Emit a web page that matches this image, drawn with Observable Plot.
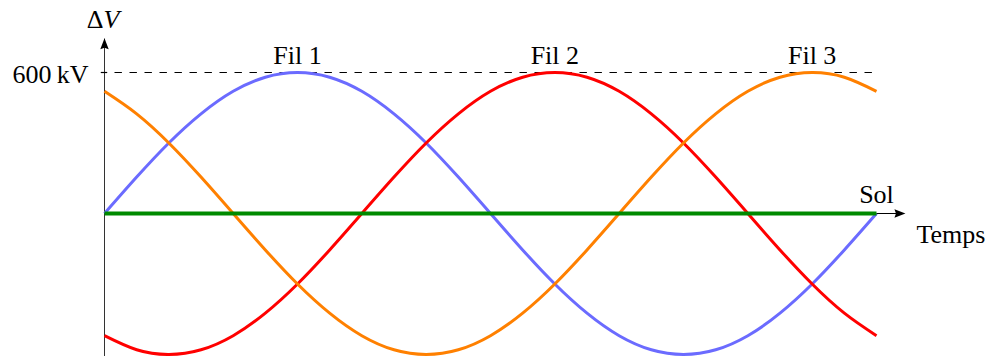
<!DOCTYPE html>
<html>
<head>
<meta charset="utf-8">
<script src="https://cdn.jsdelivr.net/npm/d3@7"></script>
<script src="https://cdn.jsdelivr.net/npm/@observablehq/plot@0.6"></script>
<style>
  html, body { margin: 0; padding: 0; background: #fff; }
  #chart svg { display: block; }
</style>
</head>
<body>
<div id="chart"></div>
<script>
// Phase of the 50 Hz cycle (degrees) — the "Temps" axis
const phase = [0, 15, 30, 45, 60, 75, 90, 105, 120, 135, 150, 165, 180,
               195, 210, 225, 240, 255, 270, 285, 300, 315, 330, 345, 360];
// Voltage of each wire relative to ground (kV)
const fil1 = [0, 155, 300, 424, 520, 580, 600, 580, 520, 424, 300, 155, 0,
              -155, -300, -424, -520, -580, -600, -580, -520, -424, -300, -155, 0];
const fil2 = [-520, -580, -600, -580, -520, -424, -300, -155, 0, 155, 300, 424, 520,
              580, 600, 580, 520, 424, 300, 155, 0, -155, -300, -424, -520];
const fil3 = [520, 424, 300, 155, 0, -155, -300, -424, -520, -580, -600, -580, -520,
              -424, -300, -155, 0, 155, 300, 424, 520, 580, 600, 580, 520];
// Ground ("Sol")
const solPhase = [0, 360];
const solValue = [0, 0];
// Peak amplitude and labels
const peakKV = 600;
const peakLabel = "600\u2009kV";
const wireNames = ["Fil 1", "Fil 2", "Fil 3"];
const wirePeaks = [90, 210, 330];
const wireColors = ["#6b6bff", "#ff0000", "#ff8000"];

const series = [fil1, fil2, fil3];
const rows = series.flatMap((vals, i) => phase.map((p, j) => ({t: p, v: vals[j], fil: wireNames[i]})));
const solRows = solPhase.map((t, i) => ({t, v: solValue[i]}));

// filled LaTeX-style arrowhead, tip at the anchor point, pointing up
const arrowHead = {
  draw(ctx) {
    ctx.moveTo(0, 0);
    ctx.lineTo(4.2, 11);
    ctx.lineTo(0, 9.5);
    ctx.lineTo(-4.2, 11);
    ctx.closePath();
  }
};

const font = "Liberation Serif, Times New Roman, serif";
const fs = 26;

const chart = Plot.plot({
  width: 989,
  height: 356,
  marginLeft: 104,
  marginRight: 113,
  marginTop: 72,
  marginBottom: 2,
  style: {fontFamily: font, background: "#fff", overflow: "visible"},
  x: {domain: [0, 360], axis: null},
  y: {domain: [-peakKV, peakKV], axis: null},
  color: {domain: wireNames, range: wireColors},
  marks: [
    // y axis line + arrow
    Plot.ruleX([0], {y1: -625, y2: 742, stroke: "#333", strokeWidth: 1}),
    Plot.dot([{t: 0, v: 746}], {x: "t", y: "v", symbol: arrowHead, fill: "#000", stroke: "none"}),
    // x axis line + arrow
    Plot.ruleY([0], {x1: 0, x2: 371, stroke: "#000", strokeWidth: 1}),
    Plot.dot([{t: 373.5, v: 0}], {x: "t", y: "v", symbol: arrowHead, fill: "#000", stroke: "none", rotate: 90}),
    // 600 kV tick and dashed reference
    Plot.ruleY([peakKV], {x1: -1.5, x2: 1.5, stroke: "#000", strokeWidth: 1.2}),
    Plot.ruleY([peakKV], {x1: 0, x2: 360, stroke: "#000", strokeWidth: 1.2, strokeDasharray: "7.4,7.6", strokeDashoffset: 4.5}),
    // wires
    Plot.line(rows, {x: "t", y: "v", z: "fil", stroke: "fil", strokeWidth: 3, curve: "natural", strokeLinecap: "butt"}),
    // ground
    Plot.line(solRows, {x: "t", y: "v", stroke: "#008a00", strokeWidth: 4, strokeLinecap: "butt"}),
    // labels
    Plot.text(wireNames.map((n, i) => ({t: wirePeaks[i], v: peakKV, n})),
      {x: "t", y: "v", text: "n", textAnchor: "middle", lineAnchor: "bottom", dy: -9, fontSize: fs, fill: "#000"}),
    Plot.text([{t: 360, v: 0}], {x: "t", y: "v", text: () => "Sol", textAnchor: "middle", lineAnchor: "bottom", dy: -11, fontSize: fs, fill: "#000"}),
    Plot.text([{t: 360, v: 0}], {x: "t", y: "v", text: () => "Temps", textAnchor: "start", lineAnchor: "bottom", dx: 40, dy: 29, fontSize: fs, fill: "#000"}),
    Plot.text([{t: 0, v: peakKV}], {x: "t", y: "v", text: () => peakLabel, textAnchor: "end", lineAnchor: "bottom", dx: -16, dy: 10, fontSize: fs, fill: "#000"}),
    Plot.text([{t: 0, v: peakKV}], {x: "t", y: "v", text: () => "\u0394", textAnchor: "end", lineAnchor: "bottom", dx: -1, dy: -45, fontSize: fs, fill: "#000"}),
    Plot.text([{t: 0, v: peakKV}], {x: "t", y: "v", text: () => "V", textAnchor: "start", lineAnchor: "bottom", dx: -1, dy: -45, fontSize: fs, fontStyle: "italic", fill: "#000"})
  ]
});
document.getElementById("chart").appendChild(chart);
</script>
</body>
</html>
